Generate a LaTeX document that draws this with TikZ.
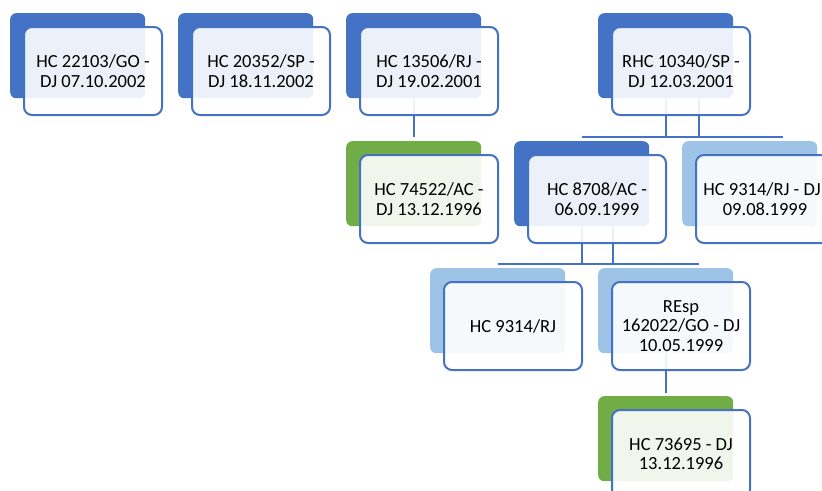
\documentclass[tikz,border=0pt]{standalone}
\usepackage{fontspec}
\setmainfont{Carlito}
\usetikzlibrary{positioning}

\definecolor{accblue}{HTML}{4472C4}
\definecolor{accgreen}{HTML}{70AD47}
\definecolor{acclight}{HTML}{9DC3E6}

\tikzset{
  tab/.style={fill=#1, rounded corners=6pt, minimum width=135pt, minimum height=85pt,
    anchor=north west, inner sep=0pt},
  card/.style={draw=accblue, line width=2pt, fill=white, fill opacity=0.9, text opacity=1,
    rounded corners=8pt, minimum width=138pt, minimum height=88pt, inner sep=2pt,
    align=center, font=\fontsize{18.5}{19.5}\selectfont},
  link/.style={draw=accblue, line width=2.3pt},
}

\begin{document}
\begin{tikzpicture}[x=1pt, y=-1pt]

\useasboundingbox (0,0) rectangle (822,490);
\clip (0,0) rectangle (822,490);

% ==== BACK TABS ====
\node[tab=accblue]  (b22103) at (10,13) {};
\node[tab=accblue]  (b20352) at (178,13) {};
\node[tab=accblue]  (b13506) at (346,13) {};
\node[tab=accblue]  (b10340) at (598,13) {};
\node[tab=accgreen] (b74522) at (346,141) {};
\node[tab=accblue]  (b8708)  at (514,141) {};
\node[tab=acclight] (b9314a) at (682,141) {};
\node[tab=acclight] (b9314b) at (430,268) {};
\node[tab=acclight] (b162022) at (598,268) {};
\node[tab=accgreen] (b73695) at (598,396) {};

% ==== CONNECTORS ====
\coordinate (busA) at (0,137);
\coordinate (busB) at (0,264);

\draw[link, shorten >=4pt] (b13506.south) -- (b74522.north);

\draw[link] (b10340.south) -- (b10340.south |- busA);
\draw[link] ([xshift=33pt]b10340.south) -- ([xshift=33pt]b10340.south |- busA);
\draw[link] (b8708.north |- busA) -- ([xshift=33pt]b9314a.north |- busA);

\draw[link] (b8708.south) -- (b8708.south |- busB);
\draw[link] ([xshift=31pt]b8708.south) -- ([xshift=31pt]b8708.south |- busB);
\draw[link] (b9314b.north |- busB) -- ([xshift=33pt]b162022.north |- busB);

\draw[link, shorten >=3pt] (b162022.south) -- (b73695.north);

% ==== FRONT CARDS ====
\node[card, below right=13pt and 13pt of b22103.north west] (hc22103) {HC 22103/GO -\\DJ 07.10.2002};
\node[card, below right=13pt and 13pt of b20352.north west] (hc20352) {HC 20352/SP -\\DJ 18.11.2002};
\node[card, below right=13pt and 13pt of b13506.north west] (hc13506) {HC 13506/RJ -\\DJ 19.02.2001};
\node[card, below right=13pt and 13pt of b10340.north west] (rhc10340) {RHC 10340/SP -\\DJ 12.03.2001};
\node[card, below right=13pt and 13pt of b74522.north west] (hc74522) {HC 74522/AC -\\DJ 13.12.1996};
\node[card, below right=13pt and 13pt of b8708.north west] (hc8708) {HC 8708/AC -\\06.09.1999};
\node[card, below right=13pt and 13pt of b9314a.north west] (hc9314a) {HC 9314/RJ - DJ\hspace*{6pt}\\09.08.1999};
\node[card, below right=13pt and 13pt of b9314b.north west] (hc9314b) {HC 9314/RJ};
\node[card, below right=13pt and 13pt of b162022.north west] (resp162022) {REsp\\162022/GO - DJ\\10.05.1999};
\node[card, below right=13pt and 13pt of b73695.north west] (hc73695) {HC 73695 - DJ\\13.12.1996};

\end{tikzpicture}
\end{document}
